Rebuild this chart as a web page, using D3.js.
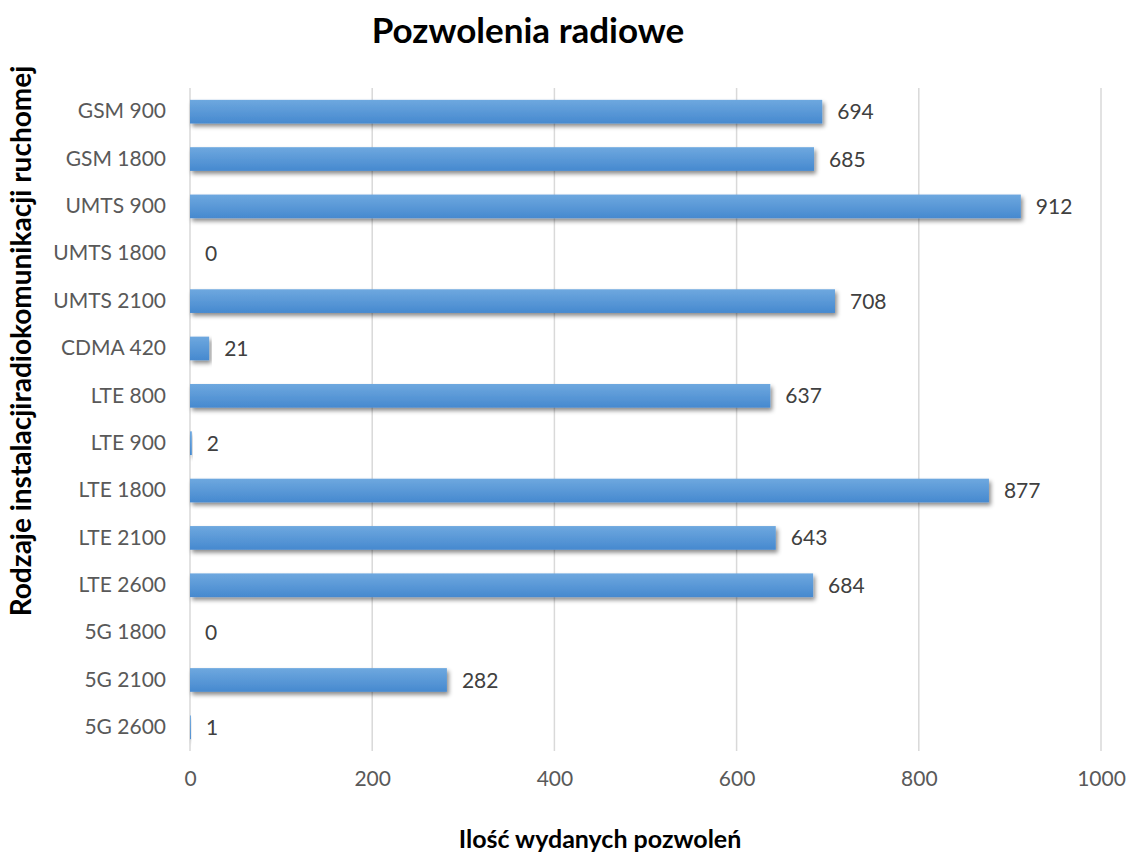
<!DOCTYPE html>
<html>
<head>
<meta charset="utf-8">
<script src="https://cdn.jsdelivr.net/npm/d3@7"></script>
<style>
  html, body { margin: 0; padding: 0; background: #fff; }
  svg { display: block; }
</style>
</head>
<body>
<svg id="chart" width="1128" height="855"></svg>
<script>
// Radio permits by mobile radio installation type
const categories = ["GSM 900", "GSM 1800", "UMTS 900", "UMTS 1800", "UMTS 2100", "CDMA 420",
  "LTE 800", "LTE 900", "LTE 1800", "LTE 2100", "LTE 2600", "5G 1800", "5G 2100", "5G 2600"];
const permits = [694, 685, 912, 0, 708, 21, 637, 2, 877, 643, 684, 0, 282, 1];
const xTicks = [0, 200, 400, 600, 800, 1000];

const chartTitle = "Pozwolenia radiowe";
const xTitle = "Ilość wydanych pozwoleń";
const yTitle = "Rodzaje instalacjiradiokomunikacji ruchomej";

const font = "Lato, 'Open Sans', sans-serif";
const svg = d3.select("#chart");
const margin = { left: 190, right: 27, top: 88, bottom: 104 };
const W = 1128, H = 855;

const x = d3.scaleLinear().domain([0, 1000]).range([margin.left, W - margin.right]);
const y = d3.scaleBand().domain(categories).range([margin.top, H - margin.bottom]).paddingInner(0.5).paddingOuter(0.25);

const defs = svg.append("defs");
const grad = defs.append("linearGradient").attr("id", "barFill")
  .attr("x1", 0).attr("y1", 0).attr("x2", 0).attr("y2", 1);
grad.append("stop").attr("offset", "0%").attr("stop-color", "#6ea8df");
grad.append("stop").attr("offset", "100%").attr("stop-color", "#4689cf");

const shadow = defs.append("filter").attr("id", "barShadow")
  .attr("x", "-5%").attr("y", "-50%").attr("width", "115%").attr("height", "220%");
shadow.append("feDropShadow").attr("dx", 2).attr("dy", 3).attr("stdDeviation", 2.2)
  .attr("flood-color", "#000").attr("flood-opacity", 0.45);

// Vertical gridlines
svg.append("g").selectAll("line").data(xTicks).join("line")
  .attr("x1", d => x(d)).attr("x2", d => x(d))
  .attr("y1", margin.top).attr("y2", H - margin.bottom)
  .attr("stroke", "#d9d9d9").attr("stroke-width", 1.5);

// Bars
svg.append("g").selectAll("rect").data(categories).join("rect")
  .attr("x", x(0))
  .attr("y", d => y(d))
  .attr("width", (d, i) => x(permits[i]) - x(0))
  .attr("height", y.bandwidth())
  .attr("fill", "url(#barFill)")
  .attr("filter", "url(#barShadow)");

// Data labels
svg.append("g").selectAll("text").data(categories).join("text")
  .attr("x", (d, i) => x(permits[i]) + 15)
  .attr("y", d => y(d) + y.bandwidth() / 2)
  .attr("dy", "0.36em")
  .attr("font-family", font).attr("font-size", 21).attr("fill", "#404040")
  .text((d, i) => permits[i]);

// Category axis
const yAxis = d3.axisLeft(y).tickSize(0).tickPadding(24);
const gy = svg.append("g").attr("transform", `translate(${margin.left},0)`).call(yAxis);
gy.select(".domain").remove();
gy.selectAll("text").attr("font-family", font).attr("font-size", 21).attr("fill", "#595959");

// Value axis
const xAxis = d3.axisBottom(x).tickValues(xTicks).tickFormat(d3.format("d")).tickSize(0).tickPadding(20);
const gx = svg.append("g").attr("transform", `translate(0,${H - margin.bottom})`).call(xAxis);
gx.select(".domain").remove();
gx.selectAll("text").attr("font-family", font).attr("font-size", 21).attr("fill", "#595959");

// Titles
svg.append("text").attr("x", 528).attr("y", 43).attr("text-anchor", "middle")
  .attr("font-family", font).attr("font-weight", "bold").attr("font-size", 35).attr("fill", "#000")
  .text(chartTitle);

svg.append("text").attr("x", 600).attr("y", 848).attr("text-anchor", "middle")
  .attr("font-family", font).attr("font-weight", "bold").attr("font-size", 25).attr("fill", "#000")
  .text(xTitle);

svg.append("text").attr("transform", "translate(31,341) rotate(-90)").attr("text-anchor", "middle")
  .attr("font-family", font).attr("font-weight", "bold").attr("font-size", 28).attr("fill", "#000")
  .text(yTitle);
</script>
</body>
</html>
